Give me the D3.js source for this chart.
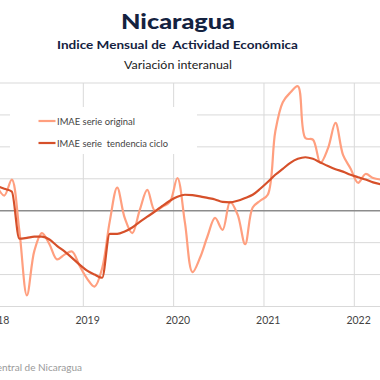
<!DOCTYPE html>
<html>
<head>
<meta charset="utf-8">
<script src="https://cdn.jsdelivr.net/npm/d3@7"></script>
<style>
  html, body { margin: 0; padding: 0; background: #fff; }
  svg { display: block; }
</style>
</head>
<body>
<svg id="chart" width="380" height="380"></svg>
<script>
// ---- data (monthly, starting January 2018) ----
const startYear = 2018;
const yearLabels = ["2018", "2019", "2020", "2021", "2022"];
const yTicks = [-12, -8, -4, 0, 4, 8, 12, 16];
const serieOriginal = [
  3.1, 1.9, 3.9, -2.5, -10.6, -5.0, -2.8, -4.2, -6.1, -5.5, -5.1, -6.9,
  -8.5, -9.5, -7.2, -1.4, 2.9, -0.9, -2.8, 0.1, 2.6, 0.0, 0.5, 1.1,
  4.1, -1.5, -7.7, -5.9, -3.2, -0.9, -2.4, 1.1, -0.5, -4.2, 0.4, 1.25,
  2.0, 9.9, 13.6, 14.8, 15.6, 9.1, 8.9, 6.0, 7.8, 11.0, 7.0, 5.3,
  3.5, 4.6, 4.1, 3.9
];
const serieTendencia = [
  3.1, 2.75, 2.4, -3.5, -3.4, -3.25, -3.25, -3.6, -4.4, -5.1, -5.9, -6.75,
  -7.5, -8.0, -8.4, -2.9, -2.9, -2.6, -2.1, -1.4, -0.75, -0.1, 0.6, 1.25,
  1.75, 2.0, 1.95, 1.8, 1.6, 1.4, 1.1, 1.05, 1.25, 1.6, 2.0, 2.75,
  3.6, 4.5, 5.25, 6.0, 6.5, 6.7, 6.5, 6.05, 5.6, 5.2, 4.9, 4.5,
  4.2, 3.9, 3.55, 3.3
];
const legendLabels = ["IMAE serie original", "IMAE serie  tendencia ciclo"];

// ---- layout ----
const svg = d3.select("#chart");
const W = 380;
const colOrig = "#ff9f7f";
const colTrend = "#d6502a";
const navy = "#14223f";

const x = d3.scaleLinear().domain([-0.5, 47.5]).range([-7.0, 354.3]);
const y = d3.scaleLinear().domain([-12, 16]).range([306.5, 83]);

function fit(sel, w) {
  sel.attr("textLength", w).attr("lengthAdjust", "spacingAndGlyphs");
}

// titles
svg.append("text").attr("x", 178).attr("y", 29).attr("text-anchor", "middle")
  .attr("font-family", "Lato, 'Open Sans', sans-serif").attr("font-weight", 900)
  .attr("font-size", 21).attr("fill", navy).text("Nicaragua").call(fit, 114);
svg.append("text").attr("x", 177.5).attr("y", 49).attr("text-anchor", "middle")
  .attr("font-family", "Lato, 'Open Sans', sans-serif").attr("font-weight", 700)
  .attr("font-size", 11.5).attr("fill", navy).attr("xml:space", "preserve")
  .text("Indice Mensual de  Actividad Económica").call(fit, 241);
svg.append("text").attr("x", 178).attr("y", 69).attr("text-anchor", "middle")
  .attr("font-family", "Lato, 'Open Sans', sans-serif")
  .attr("font-size", 11).attr("fill", "#222").text("Variación interanual").call(fit, 108);

// grid
const grid = svg.append("g");
grid.selectAll("line.h").data(yTicks.filter(d => d !== 0)).join("line")
  .attr("x1", 0).attr("x2", W)
  .attr("y1", d => y(d)).attr("y2", d => y(d))
  .attr("stroke", "#d9d9d9").attr("stroke-width", 1);
const yearBounds = d3.range(0, yearLabels.length + 1).map(k => k * 12 - 0.5);
grid.selectAll("line.v").data(yearBounds).join("line")
  .attr("x1", d => x(d)).attr("x2", d => x(d))
  .attr("y1", y(16)).attr("y2", y(-12))
  .attr("stroke", "#d9d9d9").attr("stroke-width", 1);

// x axis labels
const xAxis = d3.axisBottom(x)
  .tickValues(yearLabels.map((d, i) => i * 12))
  .tickFormat((d, i) => yearLabels[i])
  .tickSize(0).tickPadding(10);
const gx = svg.append("g").attr("transform", `translate(0,${y(-12)})`).call(xAxis);
gx.select(".domain").remove();
gx.selectAll("text").attr("font-family", "Lato, 'Open Sans', sans-serif")
  .attr("font-size", 10.5).attr("fill", "#444").attr("dy", "0.71em");

// legend box (white) covering gridlines
svg.append("rect").attr("x", 10).attr("y", 107).attr("width", 187).attr("height", 47)
  .attr("fill", "#fff");

// zero line
svg.append("line").attr("x1", 0).attr("x2", W)
  .attr("y1", y(0)).attr("y2", y(0))
  .attr("stroke", "#8c8c8c").attr("stroke-width", 1.5);

// series
const lineOrig = d3.line().x((d, i) => x(i)).y(d => y(d)).curve(d3.curveCatmullRom.alpha(0.5));
const lineTrend = d3.line().x((d, i) => x(i)).y(d => y(d)).curve(d3.curveMonotoneX);

svg.append("path").datum(serieOriginal).attr("d", lineOrig)
  .attr("fill", "none").attr("stroke", colOrig).attr("stroke-width", 2.2)
  .attr("stroke-linejoin", "round");
svg.append("path").datum(serieTendencia).attr("d", lineTrend)
  .attr("fill", "none").attr("stroke", colTrend).attr("stroke-width", 2.2)
  .attr("stroke-linejoin", "round");

// legend
const legY = [121, 143];
const legCols = [colOrig, colTrend];
const legW = [78, 111];
legendLabels.forEach((t, i) => {
  svg.append("line").attr("x1", 38.5).attr("x2", 55.5)
    .attr("y1", legY[i]).attr("y2", legY[i])
    .attr("stroke", legCols[i]).attr("stroke-width", 2.2);
  svg.append("text").attr("x", 57).attr("y", legY[i]).attr("dy", "0.35em")
    .attr("font-family", "Lato, 'Open Sans', sans-serif").attr("font-size", 10)
    .attr("fill", "#444").attr("xml:space", "preserve").text(t).call(fit, legW[i]);
});

// source (partially cropped on the left)
const src = svg.append("text").attr("x", 82).attr("y", 367).attr("dy", "0.35em")
  .attr("text-anchor", "end")
  .attr("font-family", "Lato, 'Open Sans', sans-serif").attr("font-size", 10)
  .attr("fill", "#9a9a9a").text("Fuente: Banco Central de Nicaragua");
</script>
</body>
</html>
